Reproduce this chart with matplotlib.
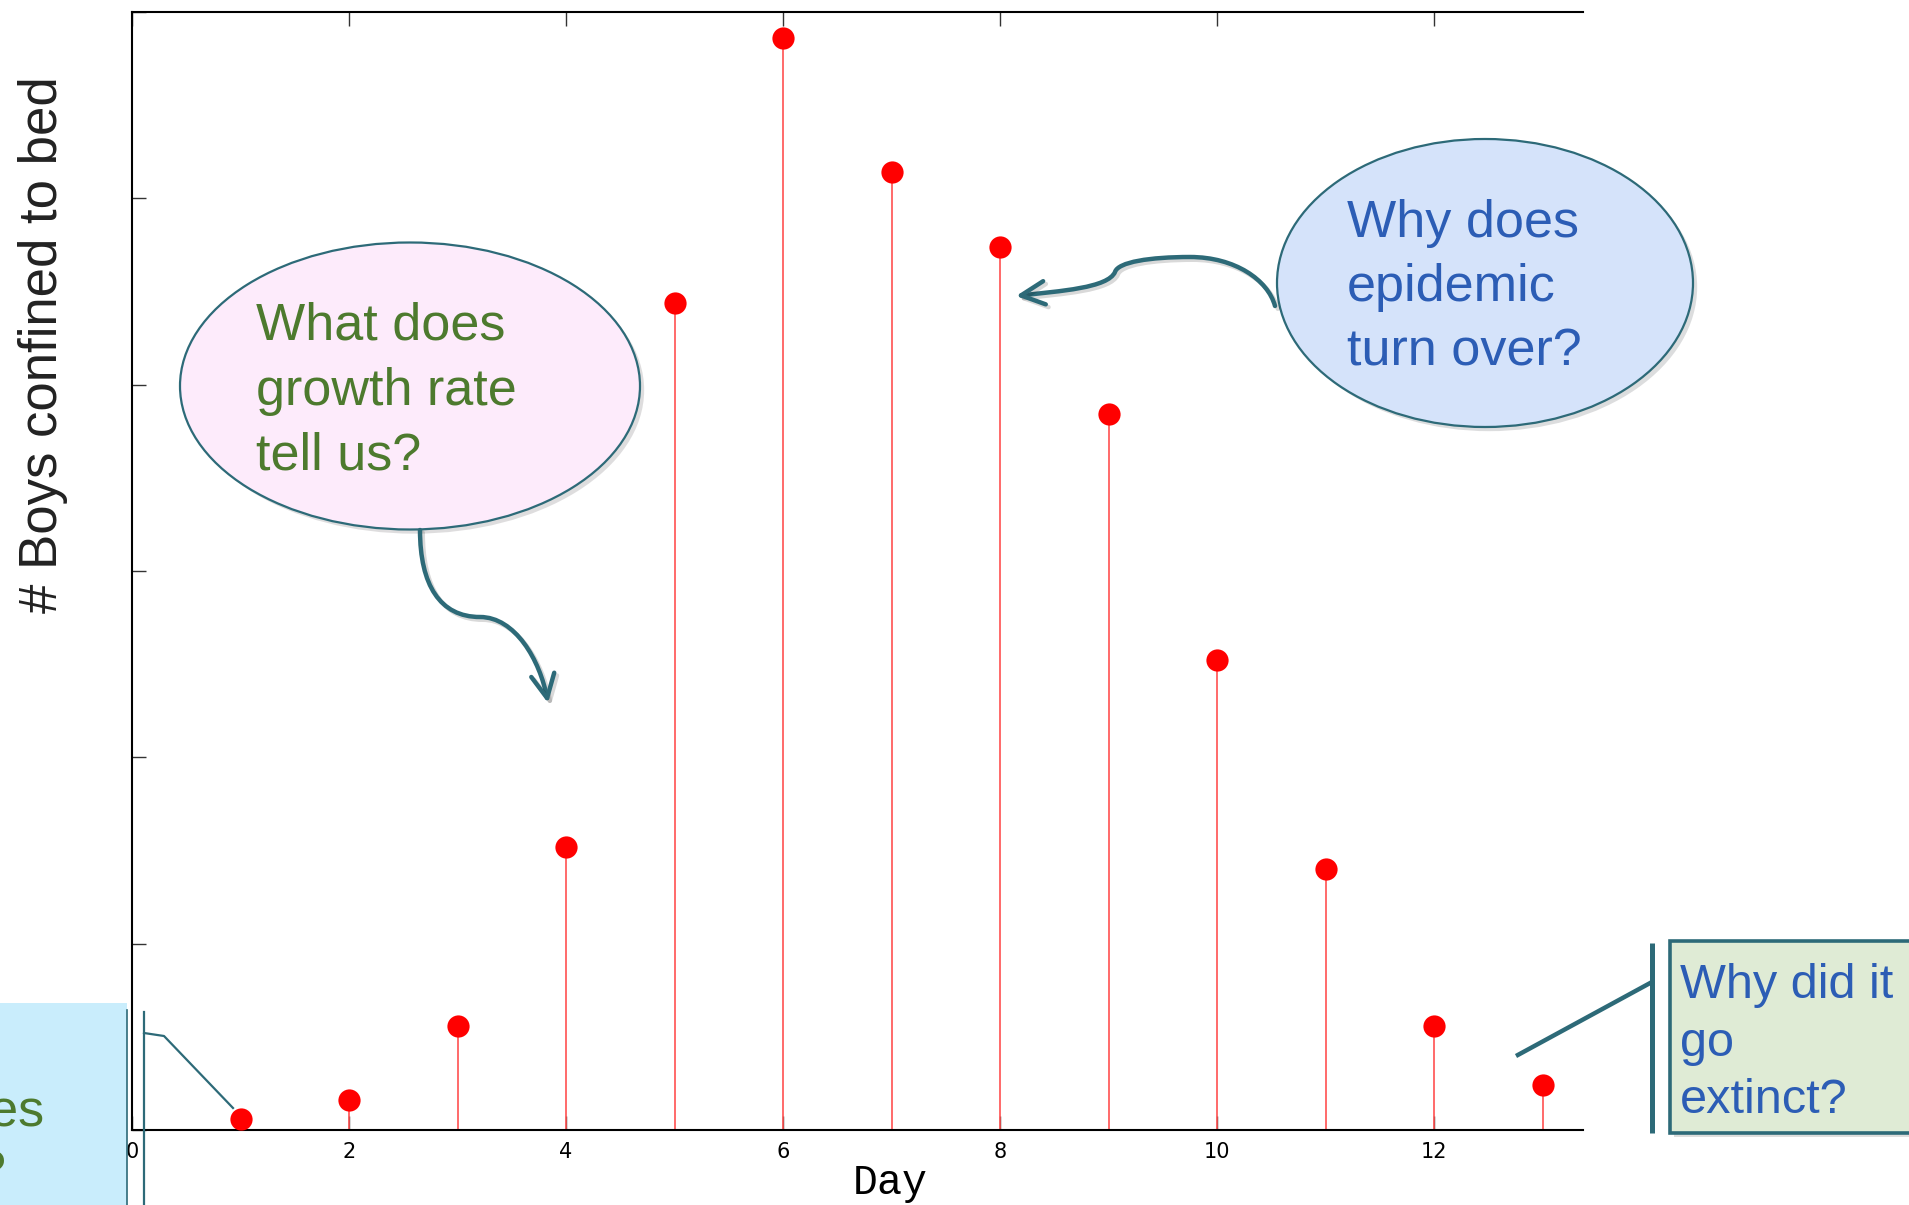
import numpy as np
import matplotlib
matplotlib.use('Agg')
import matplotlib.pyplot as plt
import matplotlib.patheffects as pe
from matplotlib.patches import Ellipse, Rectangle, FancyArrowPatch
from matplotlib.path import Path

# Boarding school influenza outbreak
days = [1, 2, 3, 4, 5, 6, 7, 8, 9, 10, 11, 12, 13]
boys_in_bed = [3, 8, 28, 76, 222, 293, 257, 237, 192, 126, 70, 28, 12]

x_ticks = [0, 2, 4, 6, 8, 10, 12]
y_ticks = [0, 50, 100, 150, 200, 250, 300]

q_growth = ["What does", "growth rate", "tell us?"]
q_turn = ["Why does", "epidemic", "turn over?"]
q_extinct = ["Why did it", "go", "extinct?"]

W, H = 1909, 1205
TEAL = '#2d6a78'
GREEN_TXT = '#4d7a2e'
BLUE_TXT = '#2c5db5'
SHADOW = [pe.SimplePatchShadow(offset=(3, -3), alpha=0.18), pe.Normal()]

fig = plt.figure(figsize=(W / 100, H / 100), dpi=100)

# main stem plot
ax = fig.add_axes([132 / W, 75 / H, (1583 - 132) / W, (1130 - 12) / H])
ax.vlines(days, 0, boys_in_bed, color='#ff5050', lw=1.2, zorder=2)
ax.plot(days, boys_in_bed, 'o', color='#ff0000', ms=16, mec='none',
        clip_on=False, zorder=3)
ax.set_xlim(0, 13.37)
ax.set_ylim(0, 300)
ax.set_xticks(x_ticks)
ax.set_yticks(y_ticks)
ax.set_yticklabels([])
ax.tick_params(axis='both', direction='in', length=10, width=1, color='#333333')
ax.tick_params(axis='x', top=True, labelsize=15, pad=9)
for lab in ax.get_xticklabels():
    lab.set_family(['Liberation Sans Narrow', 'DejaVu Sans'])
ax.spines['right'].set_visible(False)
for s in ['left', 'bottom', 'top']:
    ax.spines[s].set_linewidth(1.5)

fig.text(890 / W, 1 - 1183 / H, 'Day', family='Liberation Mono', fontsize=30,
         ha='center', va='center')
fig.text(43 / W, 1 - 345 / H, '# Boys confined to bed', family='Liberation Sans',
         fontsize=38, rotation=90, ha='center', va='center', color='#222222')

# overlay in pixel coordinates (origin top-left)
ov = fig.add_axes([0, 0, 1, 1], zorder=5)
ov.set_xlim(0, W)
ov.set_ylim(H, 0)
ov.axis('off')
ov.patch.set_visible(False)

def lines(txts, x, y0, step, color, size, ha='left'):
    for i, t in enumerate(txts):
        ov.text(x, y0 + i * step, t, color=color, fontsize=size, ha=ha,
                va='baseline', family='Liberation Sans')

def arrow(verts):
    codes = [Path.MOVETO] + [Path.CURVE4] * (len(verts) - 1)
    a = FancyArrowPatch(path=Path(verts, codes),
                        arrowstyle='->, head_length=0.85, head_width=0.42',
                        mutation_scale=20, color=TEAL, lw=3.2,
                        capstyle='round', joinstyle='round')
    a.set_path_effects([pe.SimpleLineShadow(offset=(2, -2), alpha=0.15), pe.Normal()])
    ov.add_patch(a)

# pink bubble
e1 = Ellipse((410, 386), 460, 287, fc='#fdebfb', ec=TEAL, lw=1.6)
e1.set_path_effects(SHADOW)
ov.add_patch(e1)
lines(q_growth, 256, 340, 64.5, GREEN_TXT, 37.5)
arrow([(420, 530), (420, 585), (440, 617), (480, 617),
       (515, 617), (540, 660), (548, 703)])

# blue bubble
e2 = Ellipse((1485, 283), 416, 288, fc='#d5e3fa', ec=TEAL, lw=1.6)
e2.set_path_effects(SHADOW)
ov.add_patch(e2)
lines(q_turn, 1347, 237, 64, BLUE_TXT, 37.5)
arrow([(1275, 306), (1268, 280), (1235, 257), (1190, 257),
       (1150, 257), (1118, 262), (1115, 272),
       (1108, 288), (1060, 291), (1016, 296)])

# green box, bottom right
r1 = Rectangle((1670, 941), 300, 192, fc='#dfebd5', ec=TEAL, lw=2.6)
r1.set_path_effects(SHADOW)
ov.add_patch(r1)
lines(q_extinct, 1680, 998, 57.5, BLUE_TXT, 35)
ov.plot([1652, 1652], [943, 1133], color=TEAL, lw=3.6, solid_capstyle='butt')
ov.plot([1652, 1516], [982, 1056], color=TEAL, lw=3.2, solid_capstyle='butt')

# cut-off box, bottom left
ov.add_patch(Rectangle((-10, 1003), 137, 220, fc='#c9edfc', ec='none'))
lines(["does"], 45, 1125, 62, GREEN_TXT, 37.5, ha='right')
lines(["us?"], 7, 1187, 62, GREEN_TXT, 37.5, ha='right')
ov.plot([127, 127], [1010, 1205], color=TEAL, lw=1.2)
ov.plot([144, 144], [1012, 1205], color=TEAL, lw=1.6)
ov.plot([144, 164, 233], [1033, 1036, 1108], color=TEAL, lw=1.6)

fig.savefig('out.png', dpi=100)
